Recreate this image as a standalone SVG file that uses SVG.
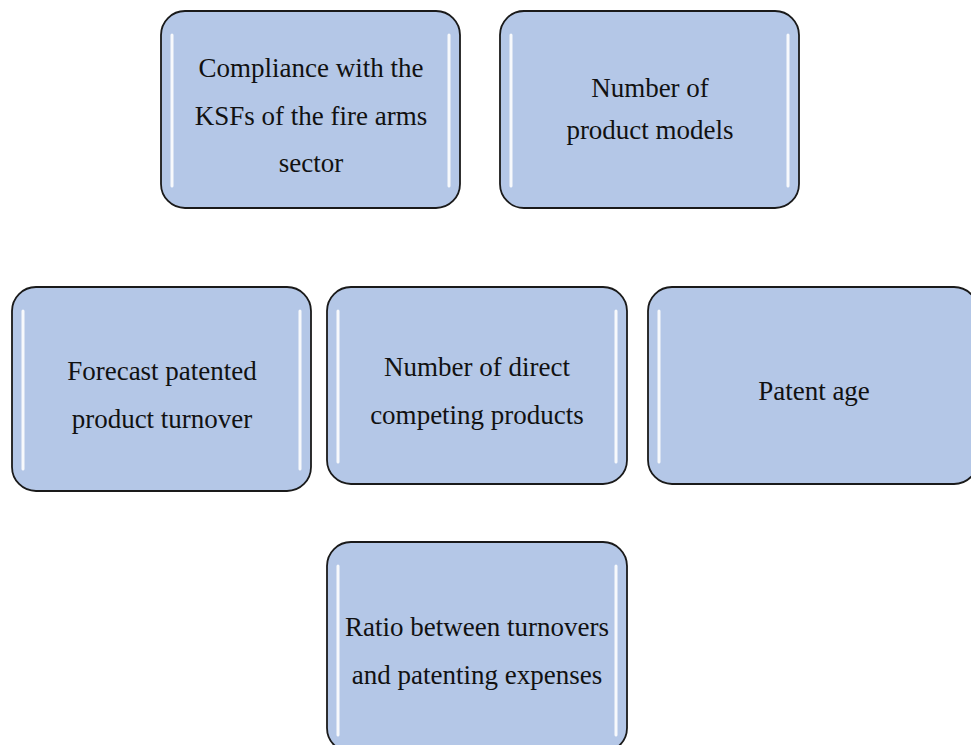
<svg xmlns="http://www.w3.org/2000/svg" width="971" height="745" viewBox="0 0 971 745">
<style>
.box{fill:#B4C7E7;stroke:#1a1a1a;stroke-width:1.8}
.hl{stroke:#ffffff;stroke-width:3;stroke-linecap:round;opacity:0.9}
.t{font-family:"Liberation Serif","Times New Roman",serif;font-size:27px;fill:#111;text-anchor:middle}
</style>
<rect width="971" height="745" fill="#ffffff"/>
<g id="connectors"></g>
<g id="n1">
<rect class="box" x="161" y="11" width="299" height="197" rx="24"/>
<line class="hl" x1="172" y1="35" x2="172" y2="186"/><line class="hl" x1="449" y1="35" x2="449" y2="186"/>
<text class="t" x="311" y="77">Compliance with the</text>
<text class="t" x="311" y="125">KSFs of the fire arms</text>
<text class="t" x="311" y="172">sector</text>
</g>
<g id="n2">
<rect class="box" x="500" y="11" width="299" height="197" rx="24"/>
<line class="hl" x1="511" y1="35" x2="511" y2="186"/><line class="hl" x1="788" y1="35" x2="788" y2="186"/>
<text class="t" x="650" y="97">Number of</text>
<text class="t" x="650" y="139">product models</text>
</g>
<g id="n3">
<rect class="box" x="12" y="287" width="299" height="204" rx="24"/>
<line class="hl" x1="23" y1="311" x2="23" y2="469"/><line class="hl" x1="300" y1="311" x2="300" y2="469"/>
<text class="t" x="162" y="380">Forecast patented</text>
<text class="t" x="162" y="428">product turnover</text>
</g>
<g id="n4">
<rect class="box" x="327" y="287" width="300" height="197" rx="24"/>
<line class="hl" x1="338" y1="311" x2="338" y2="462"/><line class="hl" x1="616" y1="311" x2="616" y2="462"/>
<text class="t" x="477" y="376">Number of direct</text>
<text class="t" x="477" y="424">competing products</text>
</g>
<g id="n5">
<rect class="box" x="648" y="287" width="330" height="197" rx="24"/>
<line class="hl" x1="659" y1="311" x2="659" y2="462"/>
<text class="t" x="814" y="400">Patent age</text>
</g>
<g id="n6">
<rect class="box" x="327" y="542" width="300" height="210" rx="24"/>
<line class="hl" x1="338" y1="566" x2="338" y2="735"/><line class="hl" x1="616" y1="566" x2="616" y2="735"/>
<text class="t" x="477" y="636">Ratio between turnovers</text>
<text class="t" x="477" y="684">and patenting expenses</text>
</g>
</svg>
